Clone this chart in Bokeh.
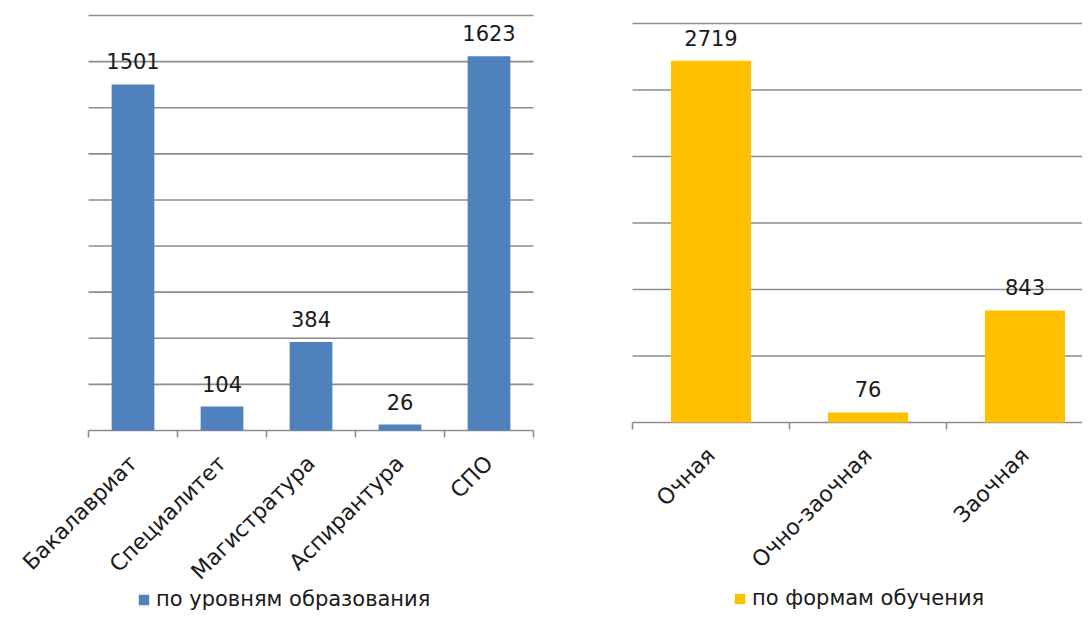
import math
from bokeh.plotting import figure
from bokeh.models import (ColumnDataSource, Range1d, Legend, LegendItem)
from bokeh.layouts import row
from bokeh.embed import file_html
from bokeh.resources import INLINE
from bokeh.core.properties import value

# ---- data ----
levels = ["Бакалавриат", "Специалитет", "Магистратура", "Аспирантура", "СПО"]
level_counts = [1501, 104, 384, 26, 1623]
level_series = "по уровням образования"

forms = ["Очная", "Очно-заочная", "Заочная"]
form_counts = [2719, 76, 843]
form_series = "по формам обучения"

left_ymax, left_step = 1800, 200
right_ymax, right_step = 3000, 500

FONT = "DejaVu Sans"
GRID = "#8c8c8c"
TXT = "#1a1a1a"
FRAME_H = 611
TICK_PX = 7


def make_chart(cats, vals, series, color, fig_left, fig_w, plot_left, cat_px,
               ymax, step, top_px, base_px, bar_w, legend_loc):
    """fig_left: x of the figure; plot_left: x of the category axis start;
    top_px/base_px: y of the ymax gridline and of the baseline."""
    n = len(cats)
    centers = [i + 0.5 for i in range(n)]
    bounds = [float(i) for i in range(n + 1)]
    x0 = -(plot_left - fig_left) / cat_px
    x1 = x0 + fig_w / cat_px
    ppu = (base_px - top_px) / ymax
    frame_top = 0
    y1 = ymax + (top_px - frame_top) / ppu
    y0 = -(frame_top + FRAME_H - base_px) / ppu

    p = figure(frame_width=fig_w, frame_height=FRAME_H, output_backend="svg",
               toolbar_location=None, x_range=Range1d(x0, x1),
               y_range=Range1d(y0, y1),
               min_border_left=0, min_border_right=0,
               min_border_top=0, min_border_bottom=0)
    p.outline_line_color = None
    p.background_fill_color = "white"
    p.border_fill_color = "white"
    p.grid.visible = False
    p.xaxis.visible = False
    p.yaxis.visible = False

    # horizontal gridlines spanning the category area
    gvals = list(range(0, ymax + 1, step))
    p.segment(x0=[0] * len(gvals), x1=[n] * len(gvals), y0=gvals, y1=gvals,
              line_color=GRID, line_width=1.6)
    # category boundary ticks below the baseline
    tick_len = TICK_PX / ppu
    p.segment(x0=bounds, x1=bounds, y0=[0] * len(bounds),
              y1=[-tick_len] * len(bounds), line_color=GRID, line_width=1.6)

    src = ColumnDataSource(dict(x=centers, top=vals, cat=cats,
                                lbl=[str(v) for v in vals]))
    r = p.vbar(x="x", top="top", bottom=0, width=bar_w, source=src,
               fill_color=color, line_color=None)
    p.text(x="x", y="top", text="lbl", source=src, text_align="center",
           text_baseline="bottom", y_offset=-15, text_color=TXT,
           text_font=value(FONT), text_font_size="21px")

    # rotated category labels, ending under each category centre
    p.text(x="x", y=0, text="cat", source=src, angle=math.pi / 4,
           text_align="right", text_baseline="middle", x_offset=0, y_offset=29,
           text_color=TXT, text_font=value(FONT), text_font_size="22px")

    leg = Legend(items=[LegendItem(label=series, renderers=[r])],
                 orientation="horizontal", location=legend_loc,
                 border_line_alpha=0, background_fill_alpha=0,
                 label_text_font=FONT, label_text_font_size="21px",
                 label_text_color=TXT,
                 glyph_width=13, glyph_height=13, label_standoff=6,
                 margin=0, padding=0)
    p.add_layout(leg, "center")
    return p


p1 = make_chart(levels, level_counts, level_series, "#4f81bd", 0, 590, 88, 89,
                left_ymax, left_step, 15, 430, 0.48, (137, 0))
p2 = make_chart(forms, form_counts, form_series, "#ffc000", 590, 492, 632, 157,
                right_ymax, right_step, 23, 422, 0.51, (143, 1))

layout = row(p1, p2)
open("out.html", "w").write(file_html(layout, INLINE))
